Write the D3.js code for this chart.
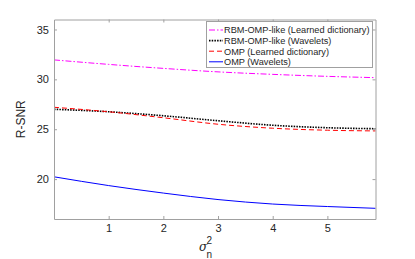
<!DOCTYPE html>
<html>
<head>
<meta charset="utf-8">
<script src="https://cdn.jsdelivr.net/npm/d3@7"></script>
<style>
  body { margin: 0; background: #fff; }
  svg { font-family: "Liberation Sans", Arial, sans-serif; }
</style>
</head>
<body>
<div id="chart"></div>
<script>
// noise variance samples
const sigmaValues = [0, 1, 2, 3, 4, 5, 5.88];

// R-SNR per method
const rbmLearned = [31.95, 31.5, 31.1, 30.75, 30.5, 30.3, 30.17];
const rbmWavelets = [27.0, 26.75, 26.35, 25.85, 25.4, 25.15, 25.05];
const ompLearned = [27.2, 26.75, 26.15, 25.5, 25.1, 24.9, 24.83];
const ompWavelets = [20.23, 19.35, 18.6, 17.95, 17.5, 17.25, 17.07];

const seriesNames = [
    "RBM-OMP-like (Learned dictionary)",
    "RBM-OMP-like (Wavelets)",
    "OMP (Learned dictionary)",
    "OMP (Wavelets)"
];
const xTicks = [1, 2, 3, 4, 5];
const yTicks = [20, 25, 30, 35];

const width = 415, height = 259;
const margin = { top: 19.5, right: 39.5, bottom: 40, left: 54 };
const w = width - margin.left - margin.right;
const h = height - margin.top - margin.bottom;

const svg = d3.select("#chart").append("svg")
    .attr("width", width)
    .attr("height", height);

const g = svg.append("g")
    .attr("transform", `translate(${margin.left}, ${margin.top})`);

const x = d3.scaleLinear().domain([0, 5.88]).range([0, w]);
const y = d3.scaleLinear().domain([16, 36]).range([h, 0]);

const axisColor = "#a0a0a0";
const textColor = "#262626";

// series
const styles = [
    { color: "#ff00ff", dash: "6,2,1.5,2", width: 1 },
    { color: "#000000", dash: "1.5,1.2", width: 1.6 },
    { color: "#ff0000", dash: "5,3", width: 1 },
    { color: "#0000ff", dash: null, width: 1 }
];
const allSeries = [rbmLearned, rbmWavelets, ompLearned, ompWavelets];

const line = d3.line()
    .x(d => x(d[0]))
    .y(d => y(d[1]))
    .curve(d3.curveMonotoneX);

allSeries.forEach((vals, i) => {
    g.append("path")
        .datum(sigmaValues.map((s, j) => [s, vals[j]]))
        .attr("fill", "none")
        .attr("stroke", styles[i].color)
        .attr("stroke-width", styles[i].width)
        .attr("stroke-dasharray", styles[i].dash)
        .attr("d", line);
});

// axes
const tickLen = 3;
const xb = g.append("g").attr("transform", `translate(0, ${h})`)
    .call(d3.axisBottom(x).tickValues(xTicks).tickFormat(d3.format("d"))
        .tickSizeInner(-tickLen).tickSizeOuter(0).tickPadding(5));
const xt = g.append("g")
    .call(d3.axisTop(x).tickValues(xTicks).tickSizeInner(-tickLen).tickSizeOuter(0).tickFormat(""));
const yl = g.append("g")
    .call(d3.axisLeft(y).tickValues(yTicks).tickSizeInner(-tickLen).tickSizeOuter(0).tickPadding(5));
const yr = g.append("g").attr("transform", `translate(${w}, 0)`)
    .call(d3.axisRight(y).tickValues(yTicks).tickSizeInner(-tickLen).tickSizeOuter(0).tickFormat(""));

[xb, xt, yl, yr].forEach(a => {
    a.selectAll("path").attr("stroke", axisColor);
    a.selectAll("line").attr("stroke", axisColor);
    a.selectAll("text").attr("fill", textColor).style("font-size", "11px");
});

// axis labels
svg.append("text")
    .attr("transform", `translate(${margin.left - 29}, ${margin.top + h / 2}) rotate(-90)`)
    .attr("text-anchor", "middle")
    .attr("fill", textColor)
    .style("font-size", "12px")
    .text("R-SNR");

const xl = svg.append("text")
    .attr("fill", textColor);
xl.append("tspan")
    .attr("x", 199).attr("y", 251)
    .attr("font-style", "italic")
    .attr("font-family", "'DejaVu Serif', serif")
    .style("font-size", "12px")
    .text("σ");
xl.append("tspan").attr("x", 206.5).attr("y", 244).style("font-size", "10px").text("2");
xl.append("tspan").attr("x", 206.5).attr("y", 258).style("font-size", "10px").text("n");

// legend
const lg = svg.append("g");
lg.append("rect")
    .attr("x", 206.5).attr("y", 21.5)
    .attr("width", 166).attr("height", 46)
    .attr("fill", "#fff")
    .attr("stroke", axisColor);

seriesNames.forEach((name, i) => {
    const ly = 30 + i * 10.6;
    lg.append("line")
        .attr("x1", 209).attr("x2", 223)
        .attr("y1", ly).attr("y2", ly)
        .attr("stroke", styles[i].color)
        .attr("stroke-width", styles[i].width)
        .attr("stroke-dasharray", styles[i].dash);
    lg.append("text")
        .attr("x", 224).attr("y", ly + 3.3)
        .attr("fill", textColor)
        .style("font-size", "9.2px")
        .text(name);
});
</script>
</body>
</html>
